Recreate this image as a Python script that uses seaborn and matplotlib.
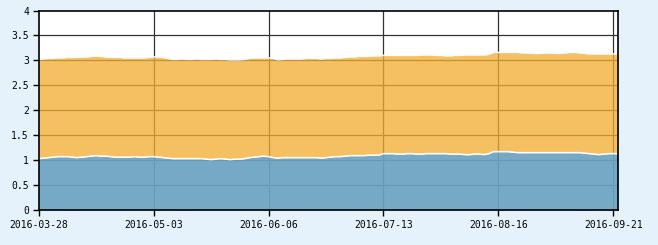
import numpy as np
import pandas as pd
import matplotlib
matplotlib.use("Agg")
import matplotlib.pyplot as plt
import seaborn as sns

# Lower (blue) series and stacked total (top of orange layer), one value per trading day
lower_vals = [
    1.03, 1.04, 1.05, 1.06, 1.07, 1.07, 1.07, 1.06, 1.05, 1.06,
    1.07, 1.08, 1.09, 1.08, 1.08, 1.07, 1.06, 1.06, 1.06, 1.06,
    1.07, 1.06, 1.06, 1.07, 1.07, 1.06, 1.05, 1.04, 1.03, 1.03,
    1.03, 1.03, 1.03, 1.03, 1.03, 1.02, 1.01, 1.02, 1.03, 1.02,
    1.01, 1.02, 1.02, 1.03, 1.05, 1.06, 1.07, 1.08, 1.07, 1.05,
    1.04, 1.05, 1.05, 1.05, 1.05, 1.05, 1.05, 1.05, 1.05, 1.04,
    1.05, 1.06, 1.07, 1.07, 1.08, 1.09, 1.09, 1.09, 1.09, 1.10,
    1.10, 1.10, 1.13, 1.13, 1.13, 1.12, 1.12, 1.13, 1.13, 1.12,
    1.12, 1.13, 1.13, 1.13, 1.13, 1.13, 1.12, 1.12, 1.12, 1.11,
    1.11, 1.12, 1.12, 1.11, 1.13, 1.17, 1.17, 1.17, 1.17, 1.16,
    1.15, 1.15, 1.15, 1.15, 1.15, 1.15, 1.15, 1.15, 1.15, 1.15,
    1.15, 1.15, 1.15, 1.15, 1.14, 1.13, 1.12, 1.11, 1.12, 1.13,
    1.13, 1.13,
]
total_vals = [
    3.02, 3.03, 3.04, 3.04, 3.05, 3.05, 3.06, 3.06, 3.06, 3.07,
    3.07, 3.08, 3.09, 3.08, 3.07, 3.06, 3.06, 3.06, 3.05, 3.05,
    3.05, 3.05, 3.05, 3.06, 3.07, 3.07, 3.06, 3.04, 3.02, 3.02,
    3.03, 3.02, 3.02, 3.03, 3.02, 3.02, 3.02, 3.03, 3.02, 3.02,
    3.01, 3.01, 3.01, 3.02, 3.04, 3.05, 3.05, 3.05, 3.05, 3.04,
    3.01, 3.02, 3.03, 3.03, 3.03, 3.03, 3.04, 3.04, 3.04, 3.03,
    3.04, 3.04, 3.05, 3.05, 3.06, 3.07, 3.07, 3.08, 3.08, 3.08,
    3.09, 3.09, 3.10, 3.10, 3.10, 3.10, 3.10, 3.10, 3.10, 3.10,
    3.11, 3.11, 3.11, 3.10, 3.10, 3.09, 3.09, 3.10, 3.10, 3.11,
    3.11, 3.11, 3.11, 3.11, 3.12, 3.16, 3.16, 3.16, 3.16, 3.16,
    3.16, 3.15, 3.15, 3.14, 3.14, 3.14, 3.15, 3.15, 3.14, 3.14,
    3.15, 3.16, 3.16, 3.15, 3.14, 3.13, 3.13, 3.13, 3.13, 3.13,
    3.13, 3.13,
]
tick_positions = [0, 24, 48, 72, 96, 120]
tick_labels = ["2016-03-28", "2016-05-03", "2016-06-06", "2016-07-13", "2016-08-16", "2016-09-21"]
y_ticks = [0, 0.5, 1, 1.5, 2, 2.5, 3, 3.5, 4]
y_labels = ["0", "0.5", "1", "1.5", "2", "2.5", "3", "3.5", "4"]

df = pd.DataFrame({"idx": np.arange(len(lower_vals)), "lower": lower_vals, "total": total_vals})

sns.set_style("white")
plt.rcParams["font.family"] = ["DejaVu Sans Mono", "DejaVu Sans"]

fig = plt.figure(figsize=(6.58, 2.45), dpi=100, facecolor="#e6f2fb")
ax = fig.add_axes([38.7 / 658, 35 / 245, (618 - 38.7) / 658, 199.5 / 245])
ax.set_facecolor("white")

# grid below fills
for yv in y_ticks[1:-1]:
    ax.axhline(yv, color="#333333", lw=0.9, zorder=0)
for xv in tick_positions[1:]:
    ax.axvline(xv, color="#333333", lw=0.9, zorder=0)

ax.fill_between(df["idx"], 0, df["lower"], color="#6ca3c2", alpha=0.93, lw=0, zorder=1)
ax.fill_between(df["idx"], df["lower"], df["total"], color="#f1ad31", alpha=0.77, lw=0, zorder=1)

sns.lineplot(data=df, x="idx", y="lower", ax=ax, color="white", lw=1.1, zorder=2)
sns.lineplot(data=df, x="idx", y="total", ax=ax, color="#f4fbff", lw=1.1, zorder=2)

ax.set_xlim(0, len(lower_vals) - 1)
ax.set_ylim(0, 4)
ax.set_xticks(tick_positions)
ax.set_xticklabels(tick_labels)
ax.set_yticks(y_ticks)
ax.set_yticklabels(y_labels)
ax.set_xlabel("")
ax.set_ylabel("")
ax.tick_params(axis="both", labelsize=7, colors="black", length=4, width=1, pad=3, direction="out")
ax.tick_params(axis="x", bottom=True)
ax.tick_params(axis="y", left=True)
for s in ax.spines.values():
    s.set_visible(True)
    s.set_color("black")
    s.set_linewidth(1.2)
    s.set_zorder(5)

fig.savefig("out.png", dpi=100, facecolor=fig.get_facecolor())
